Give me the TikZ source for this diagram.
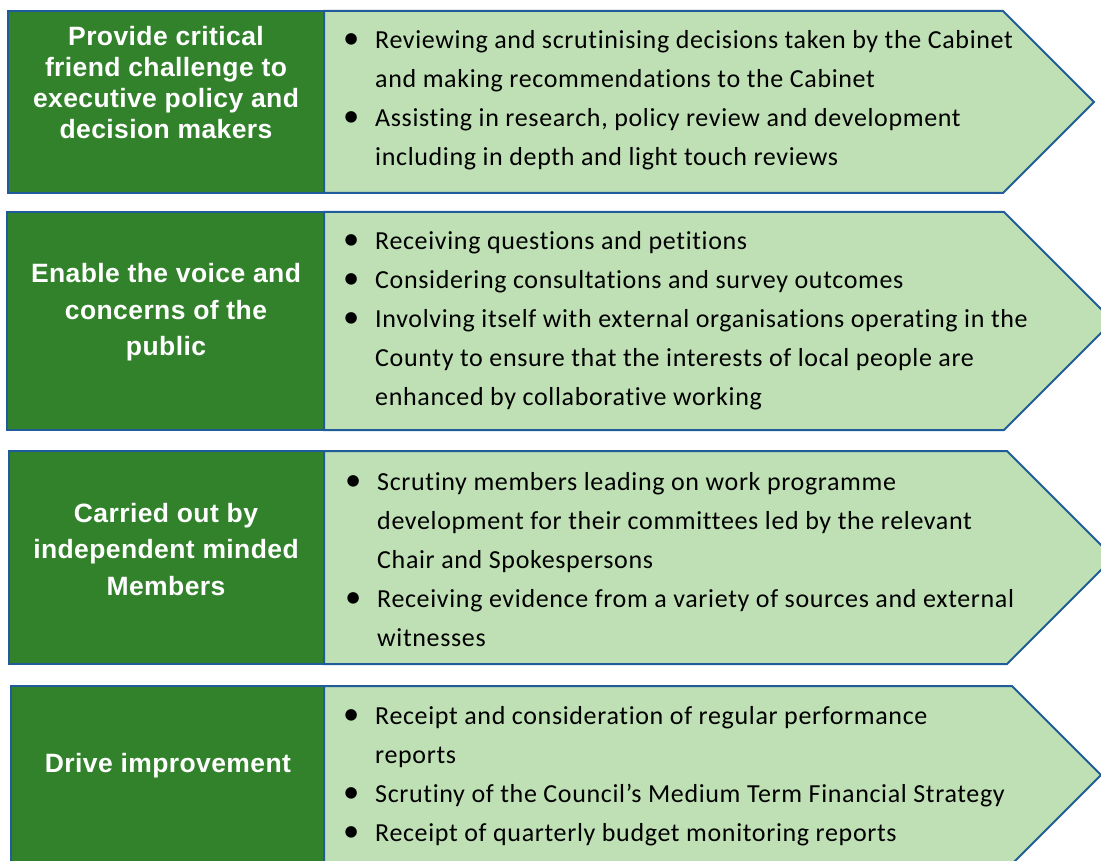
\documentclass[tikz,border=0pt]{standalone}
\usepackage{fontspec}
\setmainfont{Carlito}[Ligatures=NoCommon, LetterSpace=2.5]
\newfontfamily\headfont{Liberation Sans}[LetterSpace=1.5]
\usepackage{xcolor}
\definecolor{xdark}{HTML}{31822B}
\definecolor{xlight}{HTML}{BEE0B4}
\definecolor{xedge}{HTML}{1F5C99}
\tikzset{
  %% Styles %%
  headbox/.style = {draw=xedge, line width=2pt, fill=xdark},
  arrowbox/.style = {draw=xedge, line width=2pt, fill=xlight, line join=miter},
  headtext/.style = {anchor=base, text=white, inner sep=0pt,
    font=\headfont\bfseries\fontsize{26.5}{#1}\selectfont},
  headtext/.default = 31,
  listtext/.style = {anchor=base west, inner sep=0pt,
    font=\fontsize{26}{39}\selectfont},
}
\newcommand{\bul}{\makebox[32pt][l]{\scalebox{1.25}{•}}}

\begin{document}
\begin{tikzpicture}[x=1pt, y=-1pt]
  \useasboundingbox (0,0) rectangle (1101,861);
  \clip (0,0) rectangle (1101,861);

  % Rows: top / bottom / shoulder of arrow / left edge
  \foreach \tp/\bt/\sh/\lx in {11/193/1003/8, 212/430/1004/7, 451/664/1007/9, 686/864/1012/11} {
    \draw[arrowbox] (324,\tp) -- (\sh,\tp) -- ({\sh+(\bt-\tp)/2},{(\tp+\bt)/2})
      -- (\sh,\bt) -- (324,\bt) -- cycle;
    \draw[headbox] (\lx,\tp) rectangle (324,\bt);
  }

  % Headings
  \node[headtext] (h1) at (166,46) {\begin{tabular}[t]{@{}c@{}}
    Provide critical\\ friend challenge to\\ executive policy and\\ decision makers\end{tabular}};
  \node[headtext=36.5] (h2) at (166,283) {\begin{tabular}[t]{@{}c@{}}
    Enable the voice and\\ concerns of the\\ public\end{tabular}};
  \node[headtext=36.5] (h3) at (166,522) {\begin{tabular}[t]{@{}c@{}}
    Carried out by\\ independent minded\\ Members\end{tabular}};
  \node[headtext] (h4) at (168,772) {Drive improvement};

  % Lists
  \node[listtext] (l1) at (343,49) {\begin{tabular}[t]{@{}l@{}l@{}}
    \bul & Reviewing and scrutinising decisions taken by the Cabinet\\
         & and making recommendations to the Cabinet\\
    \bul & Assisting in research, policy review and development\\
         & including in depth and light touch reviews\end{tabular}};
  \node[listtext] (l2) at (343,250) {\begin{tabular}[t]{@{}l@{}l@{}}
    \bul & Receiving questions and petitions\\
    \bul & Considering consultations and survey outcomes\\
    \bul & Involving itself with external organisations operating in the\\
         & County to ensure that the interests of local people are\\
         & enhanced by collaborative working\end{tabular}};
  \node[listtext] (l3) at (345,490) {\begin{tabular}[t]{@{}l@{}l@{}}
    \bul & Scrutiny members leading on work programme\\
         & development for their committees led by the relevant\\
         & Chair and Spokespersons\\
    \bul & Receiving evidence from a variety of sources and external\\
         & witnesses\end{tabular}};
  \node[listtext] (l4) at (343,724) {\begin{tabular}[t]{@{}l@{}l@{}}
    \bul & Receipt and consideration of regular performance\\
         & reports\\
    \bul & Scrutiny of the Council’s Medium Term Financial Strategy\\
    \bul & Receipt of quarterly budget monitoring reports\end{tabular}};
\end{tikzpicture}
\end{document}
